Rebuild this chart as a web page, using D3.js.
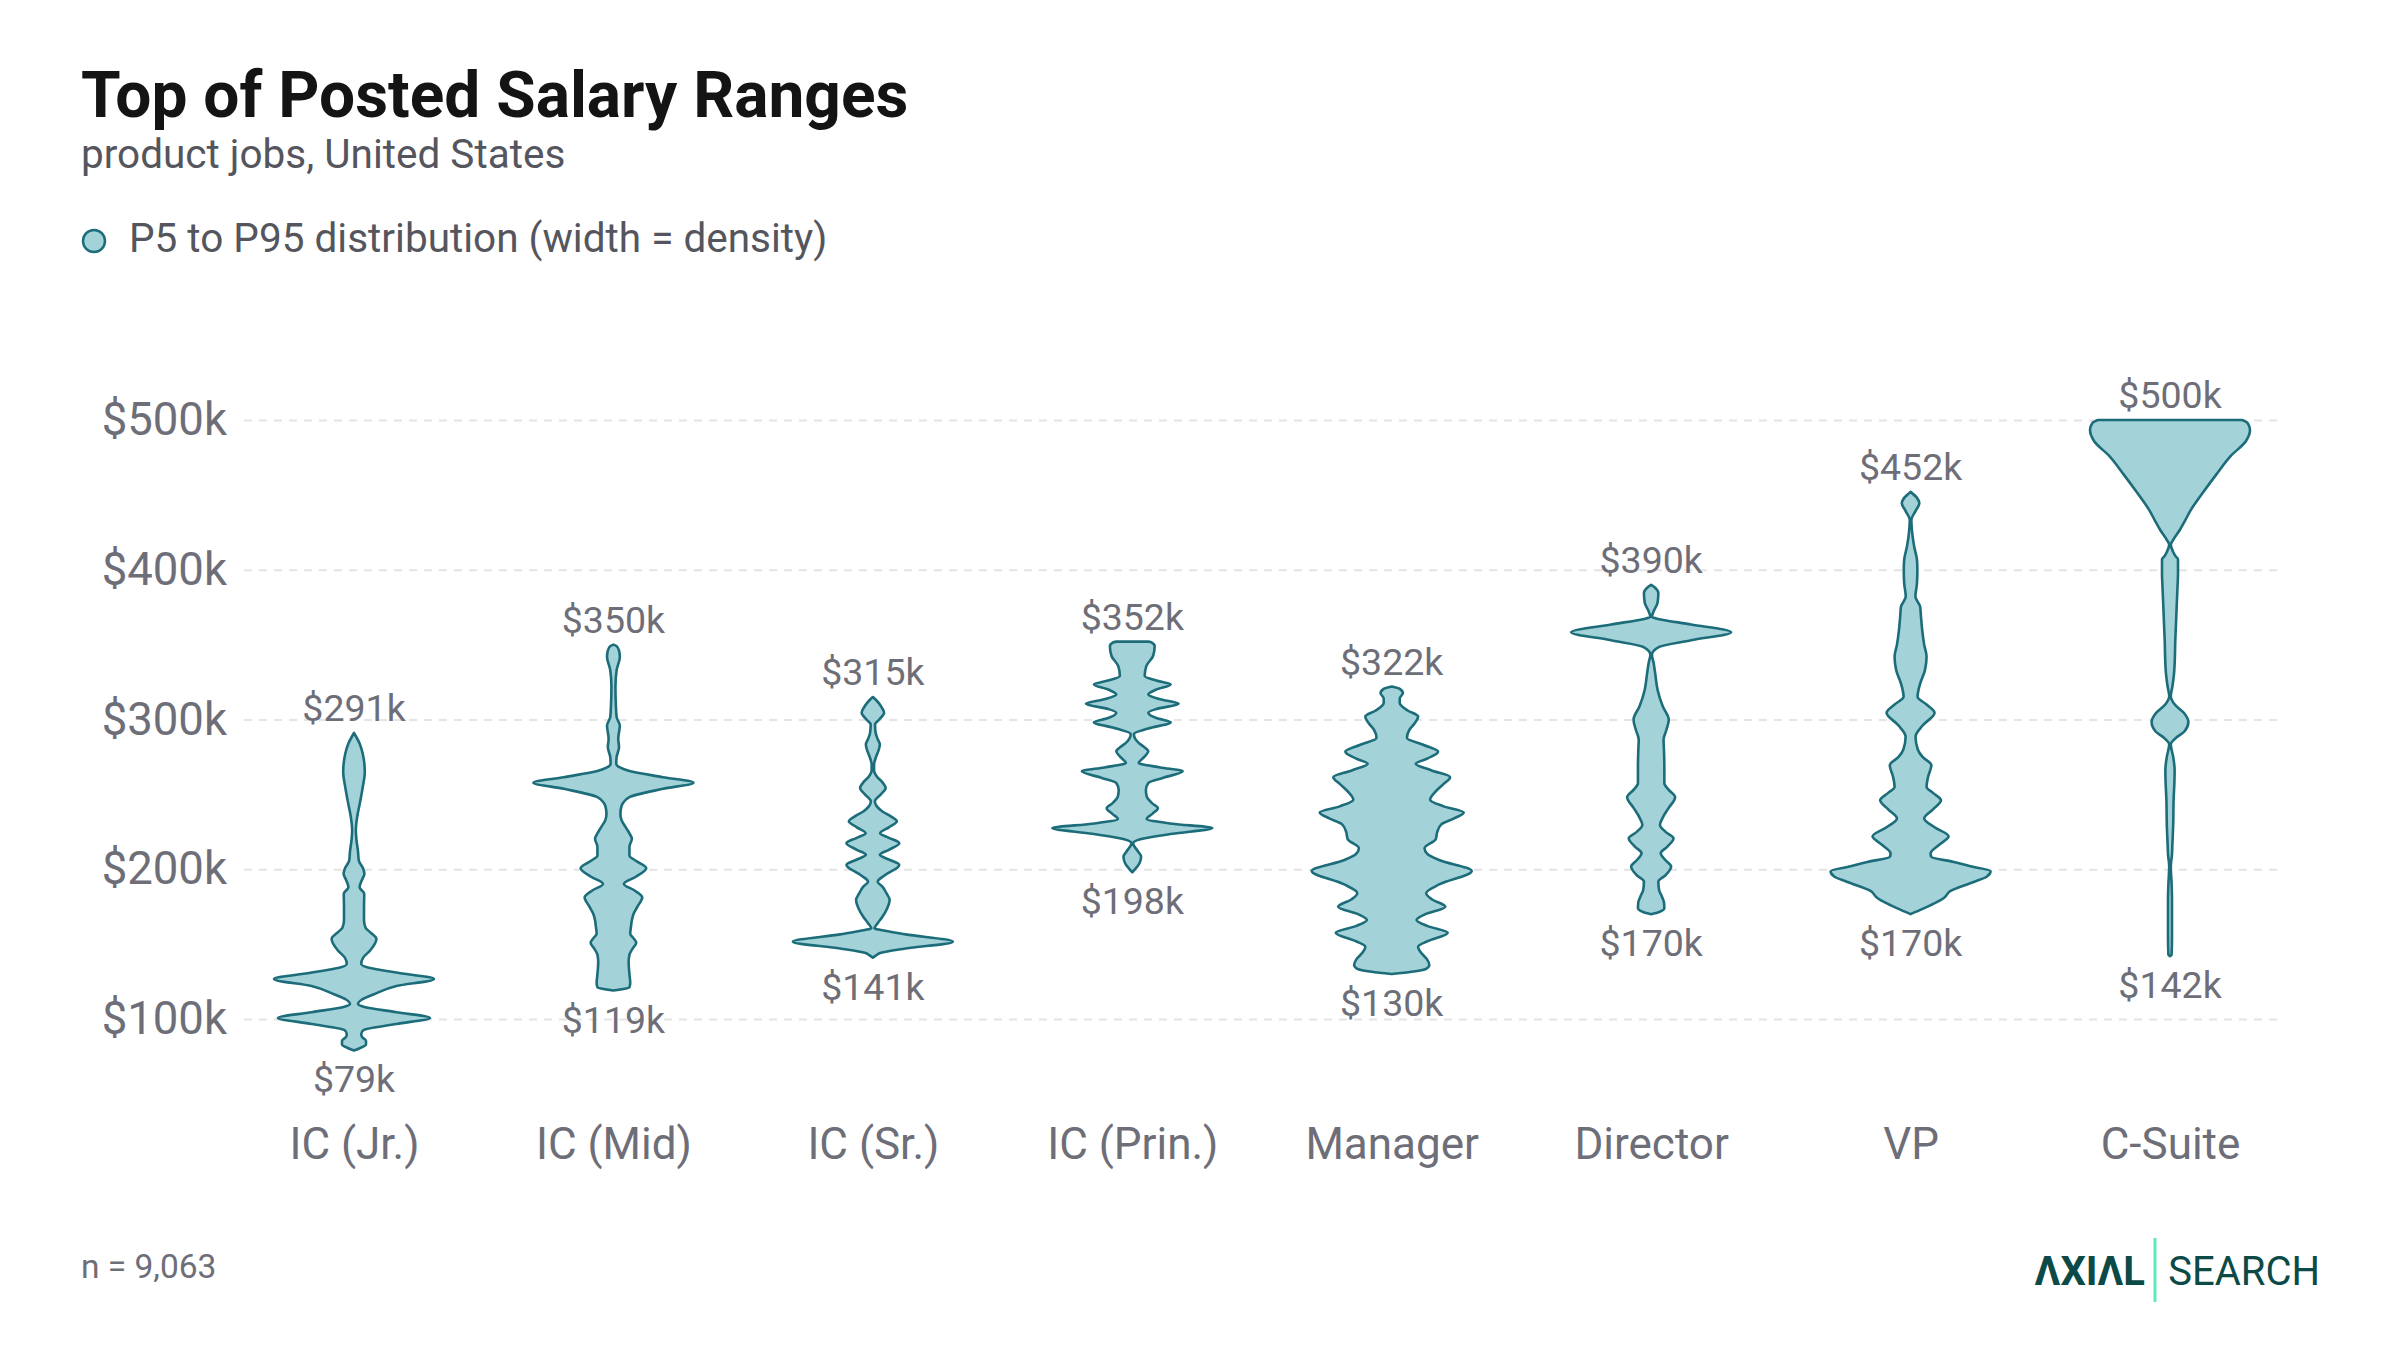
<!DOCTYPE html>
<html>
<head>
<meta charset="utf-8">
<script src="https://cdn.jsdelivr.net/npm/d3@7"></script>
<style>
  body { margin: 0; background: #fff; }
  text { font-family: Roboto, "Noto Sans", sans-serif; }
</style>
</head>
<body>
<svg id="chart" width="2400" height="1350"></svg>
<script>
// categories and P5 / P95 (in $k)
var categories = ["IC (Jr.)", "IC (Mid)", "IC (Sr.)", "IC (Prin.)", "Manager", "Director", "VP", "C-Suite"];
var p5 = [79, 119, 141, 198, 130, 170, 170, 142];
var p95 = [291, 350, 315, 352, 322, 390, 452, 500];
var yTicks = [100, 200, 300, 400, 500];

// density profiles: [salary $k, relative width]
var icJr = [[79,0],[80.5,0.07],[83,0.15],[85.5,0.15],[88,0.1],[90,0.09],[92.6,0.12],[96.7,0.53],[100.7,0.95],[104.5,0.53],[108.2,0.12],[110,0.05],[113,0.1],[116.5,0.25],[122,0.53],[126.7,1.0],[131,0.53],[133.5,0.25],[136.8,0.09],[141,0.115],[145.7,0.2],[153.5,0.28],[158,0.2],[161,0.145],[166,0.125],[175,0.125],[183.6,0.128],[188,0.07],[193,0.1],[197,0.13],[201,0.11],[205.8,0.06],[212,0.05],[220,0.03],[226,0.023],[235,0.04],[246,0.08],[255,0.11],[265,0.135],[277,0.11],[284,0.07],[291,0]];
var icMid = [[119,0],[121.2,0.2],[124,0.21],[130,0.2],[138,0.19],[143,0.2],[147,0.24],[151,0.285],[154,0.25],[157,0.21],[162,0.22],[166,0.23],[170,0.25],[175,0.3],[181.3,0.36],[186,0.26],[190.2,0.13],[195,0.28],[200.7,0.41],[205,0.3],[209.2,0.2],[215,0.2],[220.3,0.23],[224,0.2],[228,0.155],[233,0.1],[237,0.087],[242,0.1],[244.2,0.12],[248.2,0.2],[253.7,0.62],[257.8,1.0],[261.5,0.62],[265.6,0.2],[268,0.08],[270.5,0.035],[275,0.04],[281.6,0.07],[287,0.06],[296,0.08],[301.6,0.04],[310,0.03],[322,0.025],[333,0.04],[341.8,0.08],[346,0.07],[349,0.04],[350,0]];
var icSr = [[141,0],[142.5,0.04],[144.2,0.1],[147.1,0.41],[151.6,1.0],[156.5,0.41],[159.4,0.1],[160.5,0.02],[164,0.06],[168.3,0.12],[174,0.18],[179.5,0.21],[184,0.17],[188.4,0.12],[191.7,0.06],[196,0.15],[202.9,0.33],[206.5,0.2],[209.6,0.087],[213,0.2],[217.4,0.33],[221,0.2],[224,0.09],[228,0.2],[232,0.3],[235.5,0.22],[238.6,0.12],[242,0.05],[245.3,0.025],[250,0.1],[254.2,0.16],[258,0.12],[262,0.05],[266,0.015],[270,0.015],[275,0.04],[280,0.075],[283.3,0.087],[287,0.06],[291,0.035],[296.6,0.027],[300,0.08],[304.5,0.14],[309,0.1],[313,0.04],[315,0]];
var icPrin = [[198,0],[201,0.05],[204,0.09],[208.5,0.11],[212,0.07],[217.4,0.01],[220,0.1],[223.7,0.5],[227.5,1.0],[230.4,0.5],[233.5,0.18],[237,0.25],[240.8,0.32],[244,0.25],[248.7,0.18],[253,0.17],[257.6,0.2],[261,0.38],[265.4,0.63],[268,0.35],[271,0.08],[275,0.15],[278.8,0.2],[282,0.14],[284.4,0.08],[290.4,0.02],[294,0.2],[298.2,0.48],[301,0.3],[304.5,0.2],[307,0.3],[310.5,0.58],[313.5,0.35],[316.7,0.2],[320,0.3],[323.4,0.48],[326,0.3],[329,0.155],[335.7,0.175],[342.4,0.26],[349,0.28],[351.5,0.24],[352,0.2]];
var manager = [[130,0],[131.5,0.25],[133.5,0.43],[136,0.47],[140,0.44],[144,0.37],[148.3,0.33],[152,0.45],[157.6,0.7],[162,0.45],[166.1,0.31],[170,0.42],[175,0.67],[180,0.5],[184,0.43],[190,0.6],[198.9,1.0],[206,0.6],[210,0.45],[214,0.41],[220,0.55],[225,0.57],[230,0.62],[234,0.78],[237.9,0.9],[242,0.65],[246.4,0.48],[252,0.55],[257,0.65],[261.5,0.73],[266,0.5],[270.4,0.3],[274,0.45],[278.5,0.58],[283,0.4],[287.6,0.19],[293,0.22],[297,0.28],[302,0.33],[306,0.2],[311,0.1],[314,0.1],[317.7,0.14],[320.5,0.1],[322,0]];
var director = [[170,0],[171.5,0.1],[174,0.165],[178,0.16],[181.7,0.135],[186,0.1],[191.8,0.09],[196,0.18],[201.8,0.25],[206,0.18],[210.7,0.12],[215,0.2],[220.7,0.28],[225,0.18],[229.6,0.11],[235,0.15],[241,0.22],[248.1,0.3],[253,0.22],[257.5,0.165],[268.7,0.165],[280,0.16],[286.5,0.155],[293,0.19],[299.9,0.22],[308.8,0.145],[319.9,0.08],[331,0.05],[338,0.03],[343.3,0.01],[348.5,0.1],[352.9,0.5],[358.3,1.0],[363.5,0.5],[367,0.1],[368.5,0.01],[372,0.03],[378,0.08],[384.6,0.09],[388,0.05],[390,0]];
var vp = [[170,0],[173.5,0.15],[177,0.29],[181,0.42],[185.5,0.5],[191.5,0.79],[195,0.95],[198.7,1.0],[202,0.75],[204.9,0.54],[208.2,0.26],[210.5,0.25],[216,0.35],[222,0.475],[228,0.3],[233.9,0.17],[240,0.28],[246,0.38],[251,0.28],[255,0.2],[262,0.22],[269.5,0.26],[275,0.15],[280,0.09],[288.5,0.062],[296,0.15],[304.5,0.3],[310,0.2],[315.2,0.087],[320,0.1],[324,0.12],[333,0.18],[342,0.2],[350,0.17],[359.8,0.145],[368.7,0.13],[375.4,0.12],[382.1,0.06],[391,0.08],[400,0.085],[406.6,0.08],[415.5,0.045],[425,0.02],[433.3,0.01],[439,0.06],[444.5,0.11],[448,0.08],[452,0]];
var cSuite = [[142,0],[143,0.02],[155,0.025],[170,0.025],[180,0.025],[190,0.02],[202,0.01],[210,0.025],[216.8,0.03],[230,0.04],[246.4,0.045],[258,0.055],[266.2,0.058],[275,0.04],[283.5,0.01],[288,0.08],[292,0.18],[298.3,0.23],[304,0.18],[310,0.06],[315.6,0.01],[322,0.03],[330.4,0.05],[340,0.06],[352.6,0.066],[364,0.075],[374.8,0.083],[390,0.095],[397,0.1],[403,0.1],[406.9,0.1],[409,0.07],[411.9,0.04],[416.8,0.01],[420,0.04],[426.7,0.124],[433,0.19],[439,0.25],[451.4,0.41],[463.7,0.58],[476,0.76],[486,0.95],[493.3,1.0],[498,0.97],[500,0.9]];
var densities = [icJr, icMid, icSr, icPrin, manager, director, vp, cSuite];

var svg = d3.select("#chart");
svg.append("rect").attr("width", 2400).attr("height", 1350).attr("fill", "#fff");

var x = d3.scalePoint().domain(categories).range([354, 2170]);
var y = d3.scaleLinear().domain([100, 500]).range([1019, 420]);
var w = d3.scaleLinear().domain([0, 1]).range([0, 80]);
var fmt = function (d) { return "$" + d + "k"; };

// title block
svg.append("text").attr("x", 81).attr("y", 117)
  .attr("font-size", 64).attr("font-weight", 700).attr("fill", "#141414")
  .text("Top of Posted Salary Ranges");
svg.append("text").attr("x", 81).attr("y", 168)
  .attr("font-size", 40.5).attr("fill", "#55555e")
  .text("product jobs, United States");
svg.append("circle").attr("cx", 94).attr("cy", 241).attr("r", 11)
  .attr("fill", "#a3d3d9").attr("stroke", "#1c6c7a").attr("stroke-width", 2.5);
svg.append("text").attr("x", 129).attr("y", 252)
  .attr("font-size", 40.5).attr("fill", "#55555e")
  .text("P5 to P95 distribution (width = density)");

// y axis with grid
var yAxis = svg.append("g")
  .attr("transform", "translate(244,0)")
  .call(d3.axisLeft(y).tickValues(yTicks).tickSize(-(2281 - 244)).tickPadding(17).tickFormat(fmt));
yAxis.select(".domain").remove();
yAxis.selectAll(".tick line")
  .attr("stroke", "#e4e4e4").attr("stroke-width", 2).attr("stroke-dasharray", "8,7");
yAxis.selectAll(".tick text")
  .attr("font-family", "Roboto, sans-serif").attr("font-size", 45.5).attr("fill", "#6e6e78");

// x axis labels
var xAxis = svg.append("g")
  .attr("transform", "translate(0,1128)")
  .call(d3.axisBottom(x).tickSize(0).tickPadding(0));
xAxis.select(".domain").remove();
xAxis.selectAll(".tick text")
  .attr("font-family", "Roboto, sans-serif").attr("font-size", 44).attr("fill", "#6e6e78");

// violins
var violins = svg.append("g");
categories.forEach(function (cat, i) {
  var cx = x(cat);
  var area = d3.area()
    .y(function (d) { return y(d[0]); })
    .x0(function (d) { return cx - w(d[1]); })
    .x1(function (d) { return cx + w(d[1]); })
    .curve(d3.curveMonotoneY);
  violins.append("path")
    .attr("d", area(densities[i]))
    .attr("fill", "#a3d3d9")
    .attr("stroke", "#1c6c7a")
    .attr("stroke-width", 2.6)
    .attr("stroke-linejoin", "round");
  violins.append("text")
    .attr("x", cx).attr("y", y(p95[i]) - 12)
    .attr("text-anchor", "middle").attr("font-size", 37.5).attr("fill", "#6e6e78")
    .text(fmt(p95[i]));
  violins.append("text")
    .attr("x", cx).attr("y", y(p5[i]) + 42)
    .attr("text-anchor", "middle").attr("font-size", 37.5).attr("fill", "#6e6e78")
    .text(fmt(p5[i]));
});

// footer
svg.append("text").attr("x", 81).attr("y", 1278)
  .attr("font-size", 33.5).attr("fill", "#6e6e78")
  .text("n = 9,063");
svg.append("text").attr("x", 2145).attr("y", 1285).attr("text-anchor", "end")
  .attr("font-size", 40).attr("font-weight", 700).attr("fill", "#0b4a46")
  .text("ΛXIΛL");
svg.append("line").attr("x1", 2155).attr("x2", 2155).attr("y1", 1238).attr("y2", 1302)
  .attr("stroke", "#5de9b9").attr("stroke-width", 3);
svg.append("text").attr("x", 2320).attr("y", 1285).attr("text-anchor", "end")
  .attr("font-size", 40).attr("fill", "#0b4a46")
  .text("SEARCH");
</script>
</body>
</html>
